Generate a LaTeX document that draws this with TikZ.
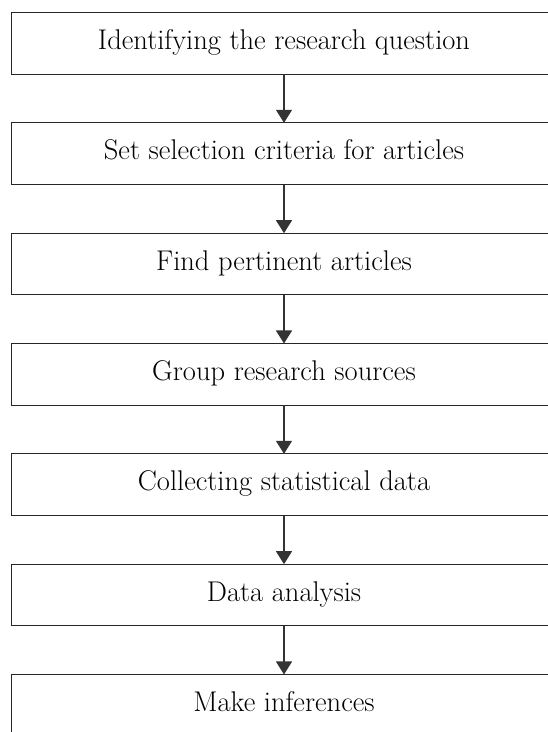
\documentclass[tikz,border=0pt]{standalone}
\usetikzlibrary{arrows.meta}
\begin{document}
\begin{tikzpicture}[x=1pt,y=-1pt,
  box/.style={minimum width=544pt, minimum height=61.3pt, inner sep=0pt, text height=19pt, text depth=7pt, font=\fontsize{28.5}{32}\selectfont},
  outline/.style={line width=1.1pt, draw=black!85},
  arr/.style={-{Triangle[width=16pt,length=13pt]}, line width=1.1pt, draw=black!80}]
\useasboundingbox (0,0) rectangle (548,732);
\clip (0,0) rectangle (548,732);
\node[box] (b1) at (284,43.35) {Identifying the research question};
\node[box] (b2) at (284,153.68) {Set selection criteria for articles};
\node[box] (b3) at (284,264.01) {Find pertinent articles};
\node[box] (b4) at (284,374.34) {Group research sources};
\node[box] (b5) at (284,484.67) {Collecting statistical data};
\node[box] (b6) at (284,595.0) {Data analysis};
\node[box] (b7) at (284,705.33) {Make inferences};
\foreach \n in {b1,b2,b3,b4,b5,b6,b7}{
  \draw[outline] (\n.north east) -- (\n.north west) -- (\n.south west) -- (\n.south east);
}
\foreach \a/\b in {b1/b2,b2/b3,b3/b4,b4/b5,b5/b6,b6/b7}{
  \draw[arr] (\a.south) -- (\b.north);
}
\end{tikzpicture}
\end{document}
